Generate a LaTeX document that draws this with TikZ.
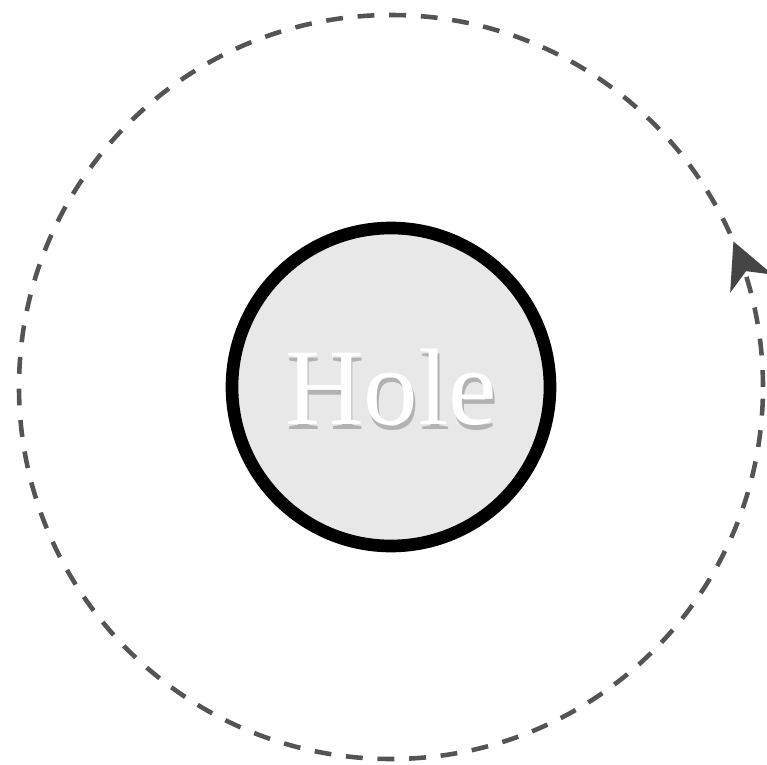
\documentclass[tikz,border=0pt]{standalone}
\usepackage{fontspec}
\setmainfont{Liberation Serif}
\usetikzlibrary{arrows.meta,decorations.markings}

\begin{document}
\begin{tikzpicture}
\tikzset{hole/.style={draw, circle, line width=3.6pt, fill=black!9, minimum size=3.18cm, inner sep=0pt}}
\tikzset{orbit/.style={draw=black!67, line width=1.3pt, dash pattern=on 4.8pt off 4.2pt}}
\tikzset{holetext/.style={font=\fontsize{31}{37}\selectfont, inner sep=0pt}}
\useasboundingbox (0,0) rectangle (7.67,7.64);
\node[hole] (h) at (3.91,3.77) {};
\node[holetext, text=black!30] (shadow) at ([xshift=0.5pt,yshift=-1.4pt]h.center) {Hole};
\node[holetext, text=white] (lbl) at (h.center) {Hole};
\draw[orbit, postaction={decorate}, decoration={markings,
  mark=at position 0.064 with {\arrow[solid, black!73]{Stealth[length=13pt, width=13pt, inset=3.8pt]}}}]
  (h.center) circle[radius=3.72];
\end{tikzpicture}
\end{document}
